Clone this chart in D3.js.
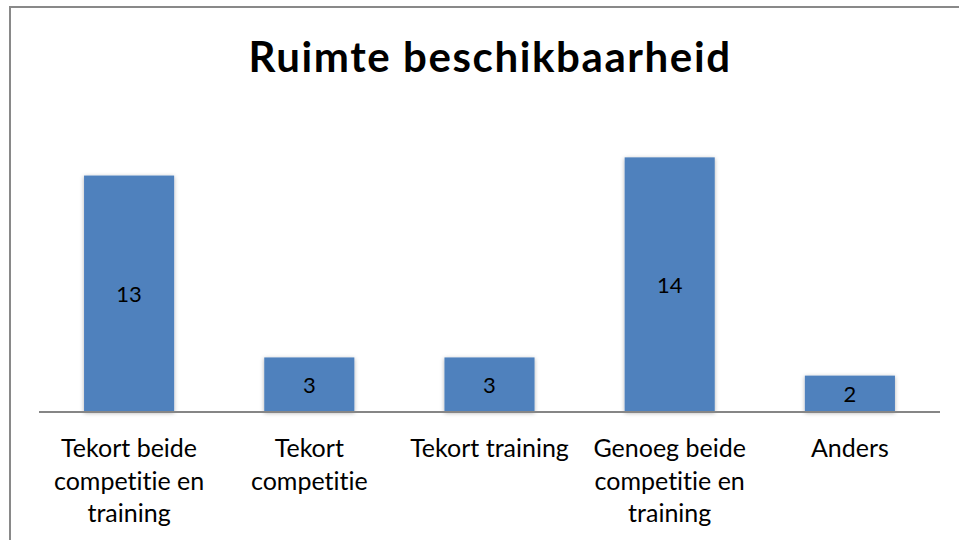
<!DOCTYPE html>
<html>
<head>
<meta charset="utf-8">
<script src="https://cdn.jsdelivr.net/npm/d3@7"></script>
<style>
  body { margin: 0; background: #fff; }
  #chart { font-family: Lato, "Open Sans", sans-serif; font-variant-ligatures: none; }
</style>
</head>
<body>
<div id="chart"></div>
<script>
const width = 959;
const height = 540;

// Chart values
const categories = ["Tekort beide competitie en training", "Tekort competitie", "Tekort training", "Genoeg beide competitie en training", "Anders"];
const labelLines = [
  ["Tekort beide", "competitie en", "training"],
  ["Tekort", "competitie"],
  ["Tekort training"],
  ["Genoeg beide", "competitie en", "training"],
  ["Anders"]
];
const values = [13, 3, 3, 14, 2];
const title = "Ruimte beschikbaarheid";

const svg = d3.select("#chart")
  .append("svg")
  .attr("width", width)
  .attr("height", height);

// soft shadow under bars
const defs = svg.append("defs");
const f = defs.append("filter").attr("id", "shadow")
  .attr("x", "-20%").attr("y", "-20%").attr("width", "140%").attr("height", "140%");
f.append("feDropShadow")
  .attr("dx", 0).attr("dy", 1).attr("stdDeviation", 2)
  .attr("flood-color", "#000").attr("flood-opacity", 0.3);

// outer chart border
svg.append("rect")
  .attr("x", 10).attr("y", 7)
  .attr("width", 990).attr("height", 600)
  .attr("fill", "#fff")
  .attr("stroke", "#898989")
  .attr("stroke-width", 2);

const x = d3.scaleBand()
  .domain(categories)
  .range([39, 940])
  .paddingInner(0.5)
  .paddingOuter(0.25);

const y = d3.scaleLinear()
  .domain([0, 16])
  .range([412, 121]);

svg.append("text")
  .attr("x", 490)
  .attr("y", 72)
  .attr("text-anchor", "middle")
  .attr("font-size", 42)
  .attr("font-weight", "bold")
  .attr("letter-spacing", 1.6)
  .attr("fill", "#000")
  .text(title);

svg.selectAll("rect.bar")
  .data(values)
  .join("rect")
  .attr("class", "bar")
  .attr("x", (d, i) => x(categories[i]))
  .attr("y", d => y(d))
  .attr("width", x.bandwidth())
  .attr("height", d => y(0) - y(d))
  .attr("fill", "#4F81BD")
  .attr("filter", "url(#shadow)");

// axis line
svg.append("line")
  .attr("x1", 39).attr("x2", 940)
  .attr("y1", y(0)).attr("y2", y(0))
  .attr("stroke", "#868686")
  .attr("stroke-width", 2);

// value labels in the middle of each bar
svg.selectAll("text.val")
  .data(values)
  .join("text")
  .attr("class", "val")
  .attr("x", (d, i) => x(categories[i]) + x.bandwidth() / 2)
  .attr("y", d => (y(d) + y(0)) / 2 + 8)
  .attr("text-anchor", "middle")
  .attr("font-size", 22)
  .attr("fill", "#000")
  .text(d => d);

// category labels
const cat = svg.selectAll("text.cat")
  .data(categories)
  .join("text")
  .attr("class", "cat")
  .attr("text-anchor", "middle")
  .attr("font-size", 25)
  .attr("fill", "#000");

cat.each(function(d, i) {
  const t = d3.select(this);
  labelLines[i].forEach((line, j) => {
    t.append("tspan")
      .attr("x", x(d) + x.bandwidth() / 2)
      .attr("y", 457 + j * 32.5)
      .text(line);
  });
});
</script>
</body>
</html>
